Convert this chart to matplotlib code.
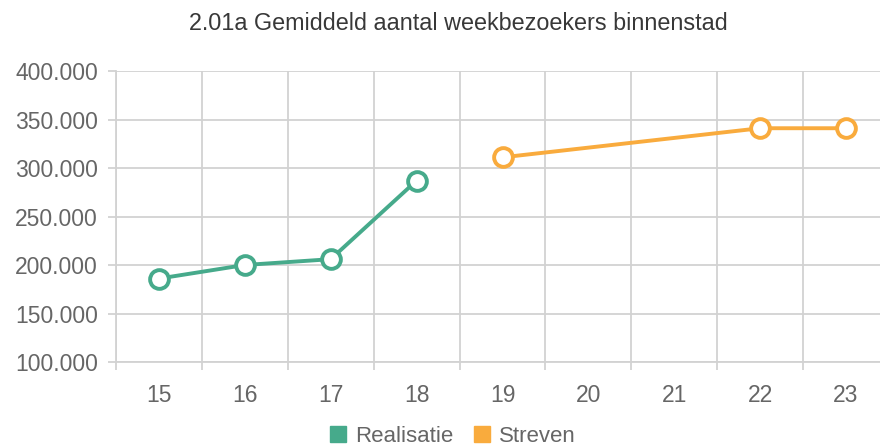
import matplotlib
matplotlib.use("Agg")
import numpy as np
from matplotlib import pyplot as plt
from matplotlib.ticker import FuncFormatter, FixedLocator

plt.rcParams['font.family'] = ['Liberation Sans', 'DejaVu Sans']

# Data
years = [15, 16, 17, 18, 19, 20, 21, 22, 23]
real_x = [15, 16, 17, 18]
real_y = [186000, 200000, 206000, 287000]
goal_x = [19, 22, 23]
goal_y = [311000, 341000, 341000]

green = '#46aa8b'
orange = '#f9ab3d'
grid = '#d2d2d2'
text = '#666666'
fs = 16.5

fig = plt.figure(figsize=(8.8, 4.48), dpi=100)
ax = fig.add_axes([116/880, 1-362/448, 773/880, 291/448])

ax.plot(real_x, real_y, color=green, lw=2.8, marker='o', ms=13.5,
        mfc='white', mec=green, mew=2.8, zorder=3, clip_on=False)
ax.plot(goal_x, goal_y, color=orange, lw=2.8, marker='o', ms=13.5,
        mfc='white', mec=orange, mew=2.8, zorder=3, clip_on=False)

ax.set_xlim(14.5, 23.5)
ax.set_ylim(100000, 400000)
ax.set_xticks(years)
ax.xaxis.set_minor_locator(FixedLocator(np.arange(14.5, 24, 1)))
ax.set_yticks(np.arange(100000, 400001, 50000))
ax.yaxis.set_major_formatter(FuncFormatter(lambda v, p: f"{int(v):,}".replace(",", ".")))

for s in ['top', 'right']:
    ax.spines[s].set_visible(False)
for s in ['left', 'bottom']:
    ax.spines[s].set_color(grid)
    ax.spines[s].set_linewidth(1.3)

ax.grid(True, which='minor', axis='x', color=grid, lw=1.3)
ax.grid(True, which='major', axis='y', color=grid, lw=1.3)
ax.tick_params(axis='x', which='major', length=0, pad=16, labelsize=fs, labelcolor=text)
ax.tick_params(axis='x', which='minor', length=6, color=grid, width=1.3)
ax.tick_params(axis='y', length=6, color=grid, width=1.3, pad=7, labelsize=fs, labelcolor=text)

fig.text(458/880, 1-23/448, '2.01a Gemiddeld aantal weekbezoekers binnenstad',
         ha='center', va='center', fontsize=16.8, color='#383838')

# legend
lh = [plt.Line2D([], [], ls='', marker='s', ms=11, color=green),
      plt.Line2D([], [], ls='', marker='s', ms=11, color=orange)]
fig.legend(lh, ['Realisatie', 'Streven'], loc='center', bbox_to_anchor=(452/880, 1-436/448),
           ncol=2, frameon=False, fontsize=16, labelcolor=text, handletextpad=0.35,
           columnspacing=0.8, handlelength=0.9, borderpad=0.1)

plt.savefig("out.png", dpi=100)
